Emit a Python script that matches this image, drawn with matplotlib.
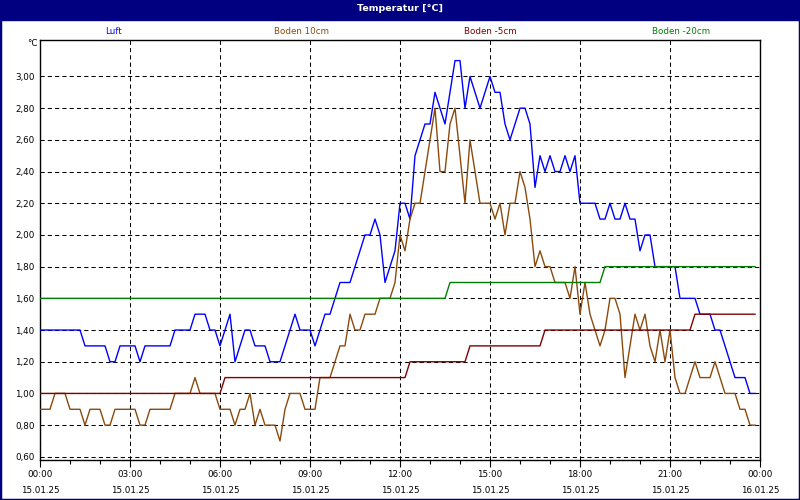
import pandas as pd
import matplotlib
matplotlib.use("Agg")
import matplotlib.pyplot as plt
import matplotlib.dates as mdates
from matplotlib.patches import Rectangle
from matplotlib.ticker import FuncFormatter, MultipleLocator

plt.rcParams["font.family"] = ["DejaVu Sans"]

# 10-minute readings, 15.01.25 00:00 .. 23:50 (one row = 2 hours)
luft = [
    1.4, 1.4, 1.4, 1.4, 1.4, 1.4, 1.4, 1.4, 1.4, 1.3, 1.3, 1.3,
    1.3, 1.3, 1.2, 1.2, 1.3, 1.3, 1.3, 1.3, 1.2, 1.3, 1.3, 1.3,
    1.3, 1.3, 1.3, 1.4, 1.4, 1.4, 1.4, 1.5, 1.5, 1.5, 1.4, 1.4,
    1.3, 1.4, 1.5, 1.2, 1.3, 1.4, 1.4, 1.3, 1.3, 1.3, 1.2, 1.2,
    1.2, 1.3, 1.4, 1.5, 1.4, 1.4, 1.4, 1.3, 1.4, 1.5, 1.5, 1.6,
    1.7, 1.7, 1.7, 1.8, 1.9, 2.0, 2.0, 2.1, 2.0, 1.7, 1.8, 1.9,
    2.2, 2.2, 2.1, 2.5, 2.6, 2.7, 2.7, 2.9, 2.8, 2.7, 2.9, 3.1,
    3.1, 2.8, 3.0, 2.9, 2.8, 2.9, 3.0, 2.9, 2.9, 2.7, 2.6, 2.7,
    2.8, 2.8, 2.7, 2.3, 2.5, 2.4, 2.5, 2.4, 2.4, 2.5, 2.4, 2.5,
    2.2, 2.2, 2.2, 2.2, 2.1, 2.1, 2.2, 2.1, 2.1, 2.2, 2.1, 2.1,
    1.9, 2.0, 2.0, 1.8, 1.8, 1.8, 1.8, 1.8, 1.6, 1.6, 1.6, 1.6,
    1.5, 1.5, 1.5, 1.4, 1.4, 1.3, 1.2, 1.1, 1.1, 1.1, 1.0, 1.0,
]
boden_10 = [
    0.9, 0.9, 0.9, 1.0, 1.0, 1.0, 0.9, 0.9, 0.9, 0.8, 0.9, 0.9,
    0.9, 0.8, 0.8, 0.9, 0.9, 0.9, 0.9, 0.9, 0.8, 0.8, 0.9, 0.9,
    0.9, 0.9, 0.9, 1.0, 1.0, 1.0, 1.0, 1.1, 1.0, 1.0, 1.0, 1.0,
    0.9, 0.9, 0.9, 0.8, 0.9, 0.9, 1.0, 0.8, 0.9, 0.8, 0.8, 0.8,
    0.7, 0.9, 1.0, 1.0, 1.0, 0.9, 0.9, 0.9, 1.1, 1.1, 1.1, 1.2,
    1.3, 1.3, 1.5, 1.4, 1.4, 1.5, 1.5, 1.5, 1.6, 1.6, 1.6, 1.7,
    2.0, 1.9, 2.1, 2.2, 2.2, 2.4, 2.6, 2.8, 2.4, 2.4, 2.7, 2.8,
    2.5, 2.2, 2.6, 2.4, 2.2, 2.2, 2.2, 2.1, 2.2, 2.0, 2.2, 2.2,
    2.4, 2.3, 2.1, 1.8, 1.9, 1.8, 1.8, 1.7, 1.7, 1.7, 1.6, 1.8,
    1.5, 1.7, 1.5, 1.4, 1.3, 1.4, 1.6, 1.6, 1.5, 1.1, 1.3, 1.5,
    1.4, 1.5, 1.3, 1.2, 1.4, 1.2, 1.4, 1.1, 1.0, 1.0, 1.1, 1.2,
    1.1, 1.1, 1.1, 1.2, 1.1, 1.0, 1.0, 1.0, 0.9, 0.9, 0.8, 0.8,
]
boden_5 = [
    1.0, 1.0, 1.0, 1.0, 1.0, 1.0, 1.0, 1.0, 1.0, 1.0, 1.0, 1.0,
    1.0, 1.0, 1.0, 1.0, 1.0, 1.0, 1.0, 1.0, 1.0, 1.0, 1.0, 1.0,
    1.0, 1.0, 1.0, 1.0, 1.0, 1.0, 1.0, 1.0, 1.0, 1.0, 1.0, 1.0,
    1.0, 1.1, 1.1, 1.1, 1.1, 1.1, 1.1, 1.1, 1.1, 1.1, 1.1, 1.1,
    1.1, 1.1, 1.1, 1.1, 1.1, 1.1, 1.1, 1.1, 1.1, 1.1, 1.1, 1.1,
    1.1, 1.1, 1.1, 1.1, 1.1, 1.1, 1.1, 1.1, 1.1, 1.1, 1.1, 1.1,
    1.1, 1.1, 1.2, 1.2, 1.2, 1.2, 1.2, 1.2, 1.2, 1.2, 1.2, 1.2,
    1.2, 1.2, 1.3, 1.3, 1.3, 1.3, 1.3, 1.3, 1.3, 1.3, 1.3, 1.3,
    1.3, 1.3, 1.3, 1.3, 1.3, 1.4, 1.4, 1.4, 1.4, 1.4, 1.4, 1.4,
    1.4, 1.4, 1.4, 1.4, 1.4, 1.4, 1.4, 1.4, 1.4, 1.4, 1.4, 1.4,
    1.4, 1.4, 1.4, 1.4, 1.4, 1.4, 1.4, 1.4, 1.4, 1.4, 1.4, 1.5,
    1.5, 1.5, 1.5, 1.5, 1.5, 1.5, 1.5, 1.5, 1.5, 1.5, 1.5, 1.5,
]
boden_20 = [
    1.6, 1.6, 1.6, 1.6, 1.6, 1.6, 1.6, 1.6, 1.6, 1.6, 1.6, 1.6,
    1.6, 1.6, 1.6, 1.6, 1.6, 1.6, 1.6, 1.6, 1.6, 1.6, 1.6, 1.6,
    1.6, 1.6, 1.6, 1.6, 1.6, 1.6, 1.6, 1.6, 1.6, 1.6, 1.6, 1.6,
    1.6, 1.6, 1.6, 1.6, 1.6, 1.6, 1.6, 1.6, 1.6, 1.6, 1.6, 1.6,
    1.6, 1.6, 1.6, 1.6, 1.6, 1.6, 1.6, 1.6, 1.6, 1.6, 1.6, 1.6,
    1.6, 1.6, 1.6, 1.6, 1.6, 1.6, 1.6, 1.6, 1.6, 1.6, 1.6, 1.6,
    1.6, 1.6, 1.6, 1.6, 1.6, 1.6, 1.6, 1.6, 1.6, 1.6, 1.7, 1.7,
    1.7, 1.7, 1.7, 1.7, 1.7, 1.7, 1.7, 1.7, 1.7, 1.7, 1.7, 1.7,
    1.7, 1.7, 1.7, 1.7, 1.7, 1.7, 1.7, 1.7, 1.7, 1.7, 1.7, 1.7,
    1.7, 1.7, 1.7, 1.7, 1.7, 1.8, 1.8, 1.8, 1.8, 1.8, 1.8, 1.8,
    1.8, 1.8, 1.8, 1.8, 1.8, 1.8, 1.8, 1.8, 1.8, 1.8, 1.8, 1.8,
    1.8, 1.8, 1.8, 1.8, 1.8, 1.8, 1.8, 1.8, 1.8, 1.8, 1.8, 1.8,
]

series_names = ["Luft", "Boden 10cm", "Boden -5cm", "Boden -20cm"]
series_colors = ["#0000ff", "#8b4a0c", "#800000", "#008000"]
series_values = [luft, boden_10, boden_5, boden_20]

times = pd.date_range("2025-01-15 00:00", periods=len(luft), freq="10min")

navy = "#000080"
fig = plt.figure(figsize=(8, 5), dpi=100)

# title bar + frame
fig.patches.append(Rectangle((0, 0.96), 1, 0.04, transform=fig.transFigure,
                             color=navy, zorder=0))
fig.patches.append(Rectangle((0, 0), 1, 1, transform=fig.transFigure,
                             fill=False, edgecolor=navy, lw=2.5, zorder=5))
fig.text(0.5, 0.983, "Temperatur [°C]", color="white", fontsize=6.8,
         fontweight="bold", ha="center", va="center")

# series names above the plot
legend_x = [113, 301, 490, 681]
for name, col, xp in zip(series_names, series_colors, legend_x):
    fig.text(xp / 800, 1 - 31 / 500, name, color=col, fontsize=6.3,
             ha="center", va="center")

ax = fig.add_axes([0.05, 0.08, 0.9, 0.84])
for vals, col in zip(series_values, series_colors):
    ax.plot(times, vals, color=col, lw=1.0, zorder=3)

ax.set_xlim(pd.Timestamp("2025-01-15 00:00"), pd.Timestamp("2025-01-16 00:00"))
ax.set_ylim(0.58, 3.23)

ax.xaxis.set_major_locator(mdates.HourLocator(interval=3))
ax.xaxis.set_minor_locator(mdates.HourLocator(interval=1))
ax.xaxis.set_major_formatter(mdates.DateFormatter("%H:%M\n%d.%m.%y"))
ax.yaxis.set_major_locator(MultipleLocator(0.2))
ax.yaxis.set_major_formatter(FuncFormatter(lambda v, p: f"{v:.2f}".replace(".", ",")))
ax.set_yticks([0.6 + 0.2 * k for k in range(13)])

ax.grid(True, color="black", lw=0.75, linestyle=(0, (4, 3)), zorder=1)
ax.tick_params(axis="x", which="major", length=5, width=0.8, labelsize=6.3, pad=2)
ax.tick_params(axis="x", which="minor", length=3, width=0.8)
ax.tick_params(axis="y", length=0, labelsize=6.3, pad=4)
for lab in ax.get_xticklabels():
    lab.set_linespacing(2.1)
for sp in ax.spines.values():
    sp.set_color("black")
    sp.set_linewidth(1.0)

fig.text(32 / 800, 1 - 44 / 500, "°C", fontsize=6.3, ha="center", va="center")

fig.savefig("out.png", dpi=100)
